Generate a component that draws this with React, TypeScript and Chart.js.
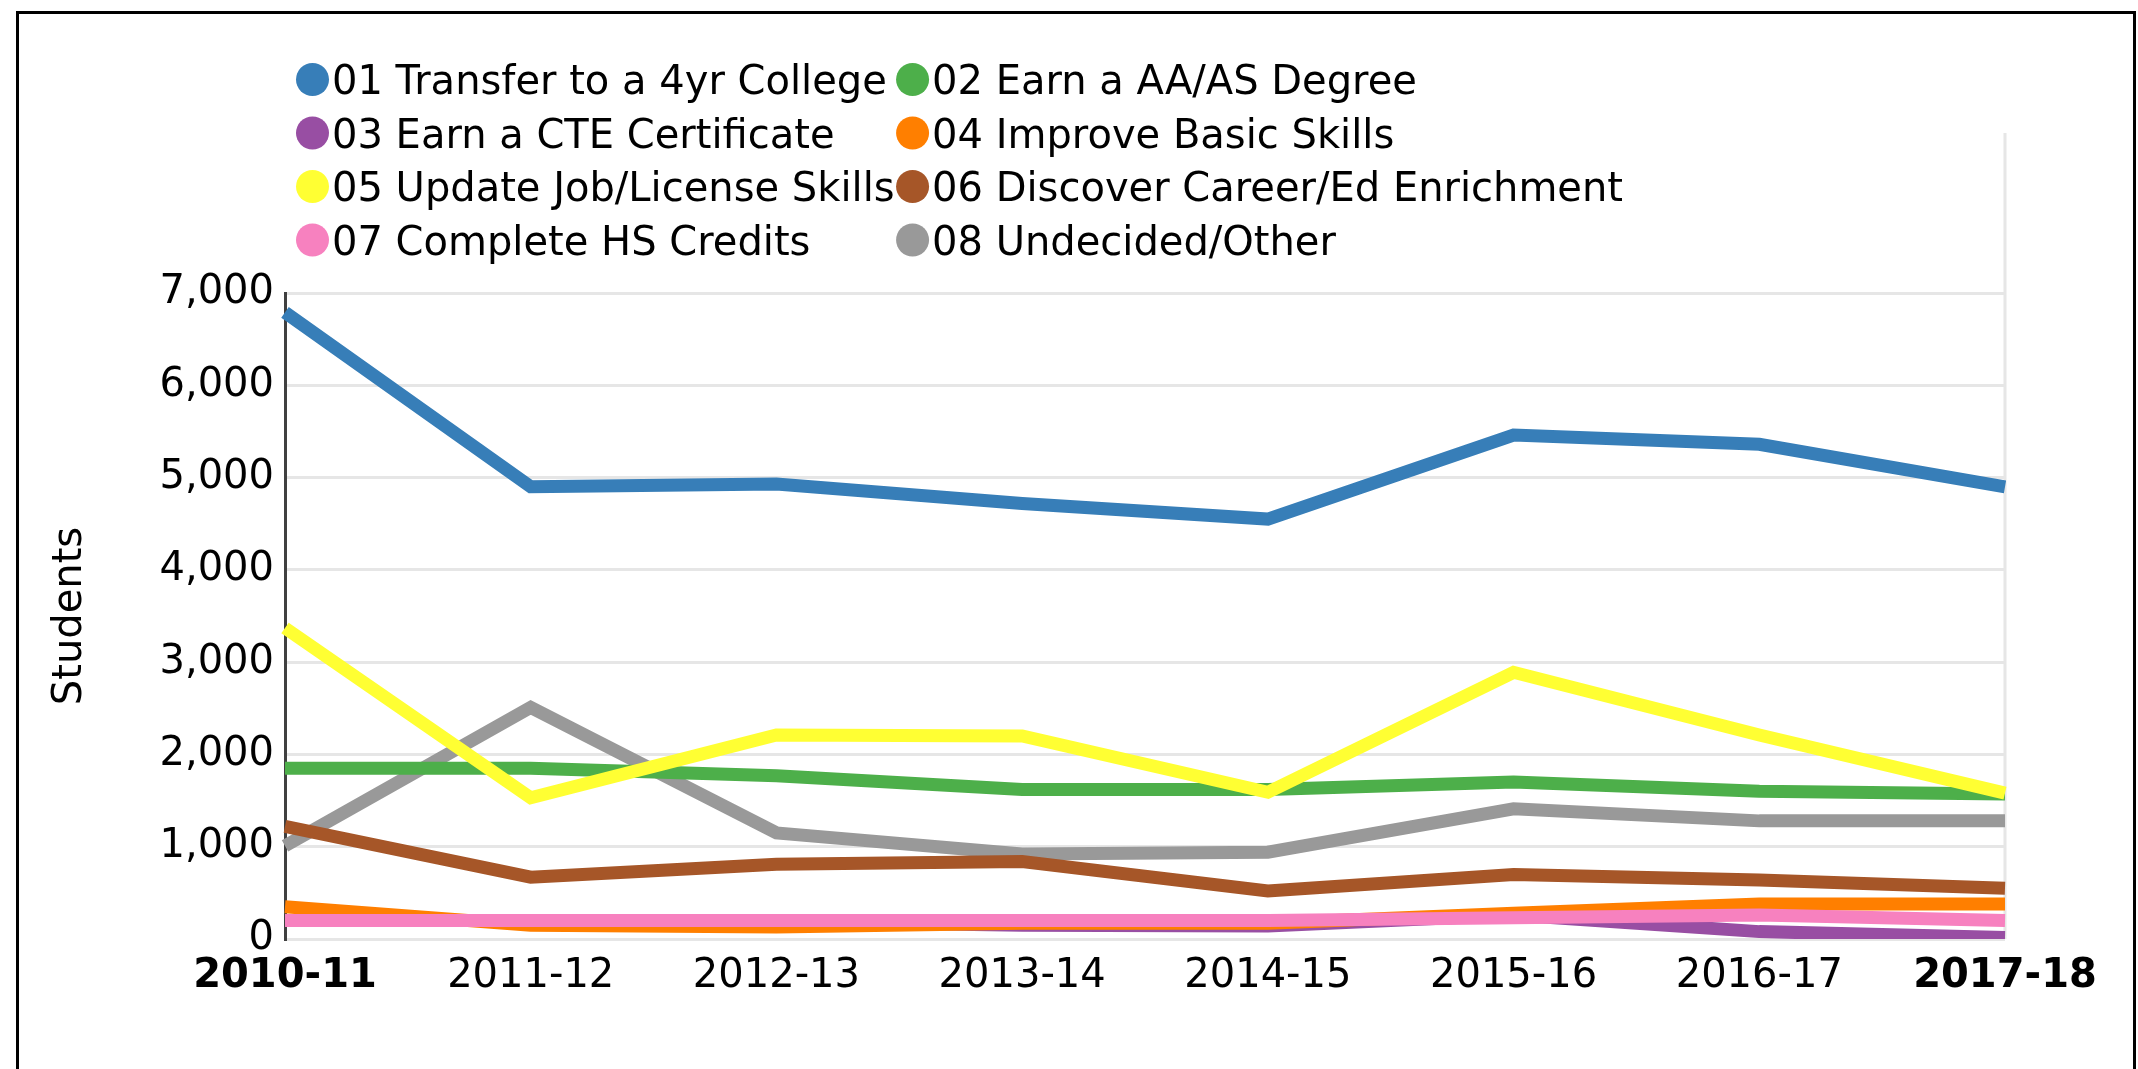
import React, { useEffect, useRef } from "react";
import { Chart, registerables } from "chart.js";

Chart.register(...registerables);

const categories = ["2010-11", "2011-12", "2012-13", "2013-14", "2014-15", "2015-16", "2016-17", "2017-18"];

const transferLabel = "01 Transfer to a 4yr College";
const degreeLabel = "02 Earn a AA/AS Degree";
const cteLabel = "03 Earn a CTE Certificate";
const basicLabel = "04 Improve Basic Skills";
const jobLabel = "05 Update Job/License Skills";
const enrichLabel = "06 Discover Career/Ed Enrichment";
const hsLabel = "07 Complete HS Credits";
const undecidedLabel = "08 Undecided/Other";

const transfer = [6790, 4900, 4930, 4720, 4550, 5460, 5360, 4900];
const degree = [1850, 1850, 1770, 1620, 1620, 1700, 1600, 1570];
const cte = [200, 200, 190, 150, 140, 260, 80, 15];
const basic = [350, 150, 130, 170, 170, 280, 380, 380];
const jobSkills = [3370, 1530, 2210, 2200, 1590, 2890, 2210, 1580];
const enrichment = [1220, 670, 810, 840, 520, 700, 640, 550];
const hsCredits = [200, 200, 200, 200, 200, 230, 260, 200];
const undecided = [1010, 2510, 1150, 920, 940, 1410, 1280, 1280];

const yTicks = [0, 1000, 2000, 3000, 4000, 5000, 6000, 7000];
const yTitle = "Students";

const FONT = '"DejaVu Sans", sans-serif';

const legendPlugin = {
  id: "gridLegend",
  afterDraw(chart: any) {
    const ctx = chart.ctx;
    const ds = chart.data.datasets;
    ctx.save();
    ctx.font = `40px ${FONT}`;
    ctx.textBaseline = "alphabetic";
    ctx.fillStyle = "#000";
    const r = 16.5;
    const col1Left = 296;
    const textGap = 3;
    const text1X = col1Left + 2 * r + textGap;
    let maxW = 0;
    ds.forEach((d: any, i: number) => {
      if (i % 2 === 0) maxW = Math.max(maxW, ctx.measureText(d.label).width);
    });
    const col2Left = text1X + maxW + 1.5;
    const rowY0 = 79.5;
    const rowH = 53.5;
    ds.forEach((d: any, i: number) => {
      const col = i % 2;
      const row = Math.floor(i / 2);
      const left = col === 0 ? col1Left : col2Left;
      const cy = rowY0 + row * rowH;
      ctx.beginPath();
      ctx.arc(left + r, cy, r, 0, Math.PI * 2);
      ctx.fillStyle = d.borderColor;
      ctx.fill();
      ctx.fillStyle = "#000";
      ctx.fillText(d.label, left + 2 * r + textGap, cy + 14.6);
    });
    ctx.restore();
  },
};

const rightLinePlugin = {
  id: "rightLine",
  beforeDatasetsDraw(chart: any) {
    const { ctx, chartArea } = chart;
    ctx.save();
    ctx.strokeStyle = "#e6e6e6";
    ctx.lineWidth = 3;
    ctx.beginPath();
    ctx.moveTo(chartArea.right, chartArea.top - 160);
    ctx.lineTo(chartArea.right, chartArea.bottom);
    ctx.stroke();
    ctx.restore();
  },
};

export default function App() {
  const ref = useRef<HTMLCanvasElement>(null);
  useEffect(() => {
    if (!ref.current) return;
    const mk = (label: string, data: number[], color: string, order: number) => ({
      label,
      data,
      borderColor: color,
      backgroundColor: color,
      borderWidth: 13,
      pointRadius: 0,
      pointHoverRadius: 0,
      tension: 0,
      fill: false,
      order,
    });
    const n = categories.length;
    const chart = new Chart(ref.current, {
      type: "line",
      data: {
        labels: categories,
        datasets: [
          mk(transferLabel, transfer, "#377eb8", 7),
          mk(degreeLabel, degree, "#4daf4a", 3),
          mk(cteLabel, cte, "#984ea3", 6),
          mk(basicLabel, basic, "#ff7f00", 5),
          mk(jobLabel, jobSkills, "#ffff33", 1),
          mk(enrichLabel, enrichment, "#a65628", 2),
          mk(hsLabel, hsCredits, "#f781bf", 0),
          mk(undecidedLabel, undecided, "#999999", 4),
        ],
      },
      options: {
        responsive: false,
        animation: false,
        devicePixelRatio: 1,
        layout: { padding: { top: 293, right: 133, bottom: 70, left: 0 } },
        plugins: {
          legend: { display: false },
          tooltip: { enabled: false },
        },
        scales: {
          x: {
            offset: false,
            grid: { display: false, drawTicks: false },
            border: { display: false },
            ticks: {
              color: "#000",
              padding: 14,
              maxRotation: 0,
              autoSkip: false,
              font: (c: any) => ({
                family: FONT,
                size: 40,
                weight: c.index === 0 || c.index === n - 1 ? "bold" : "normal",
              }),
            },
            afterFit: (s: any) => {
              s.height = 60;
            },
          },
          y: {
            min: yTicks[0],
            max: yTicks[yTicks.length - 1],
            afterBuildTicks: (s: any) => {
              s.ticks = yTicks.map((v) => ({ value: v }));
            },
            grid: { color: "#e6e6e6", lineWidth: 3, drawTicks: false },
            border: { display: true, color: "#404040", width: 3 },
            ticks: {
              color: "#000",
              padding: 11,
              font: { family: FONT, size: 40 },
              callback: (v: any) => Number(v).toLocaleString("en-US"),
            },
            title: {
              display: true,
              text: yTitle,
              color: "#000",
              font: { family: FONT, size: 40 },
              padding: { top: 47, bottom: 0 },
            },
            afterFit: (s: any) => {
              s.width = 285;
            },
          },
        },
      },
      plugins: [rightLinePlugin, legendPlugin],
    });
    return () => chart.destroy();
  }, []);
  return (
    <>
      <div
        style={{
          position: "fixed",
          left: 16,
          top: 11,
          width: 2120,
          height: 1200,
          border: "3px solid #000",
          boxSizing: "border-box",
        }}
      />
      <canvas
        ref={ref}
        width={2138}
        height={1069}
        style={{ position: "fixed", left: 0, top: 0, width: 2138, height: 1069 }}
      />
    </>
  );
}
